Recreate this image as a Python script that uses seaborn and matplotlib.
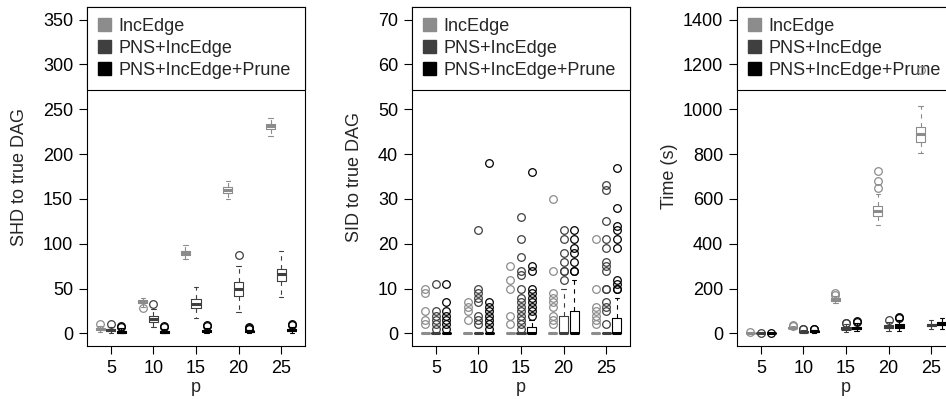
import matplotlib
matplotlib.use("Agg")
import matplotlib.pyplot as plt
import matplotlib.patches as mpatches
import pandas as pd
import seaborn as sns

p_values = [5, 10, 15, 20, 25]
methods = ["IncEdge", "PNS+IncEdge", "PNS+IncEdge+Prune"]
colors = ["#8c8c8c", "#3f3f3f", "#000000"]

# each box: [lower whisker, Q1, median, Q3, upper whisker], one per p
shd_inc = [[2, 4, 5, 6, 8], [30, 34, 35, 37, 40], [83, 87, 90, 92, 99],
           [150, 157, 160, 163, 170], [220, 228, 231, 234, 240]]
shd_inc_out = [[10], [28], [], [], []]
shd_pns = [[1, 3, 4, 5, 7], [7, 13, 16, 20, 27], [17, 28, 33, 38, 52],
           [24, 42, 50, 57, 75], [41, 58, 66, 72, 92]]
shd_pns_out = [[10], [33], [], [87], []]
shd_prune = [[0, 1, 2, 3, 6], [0, 1, 2, 3, 5], [0, 2, 3, 4, 6],
             [1, 2, 3, 3, 4], [1, 3, 4, 5, 7]]
shd_prune_out = [[7, 8], [7, 8], [8, 9], [5, 6, 7], [9, 10]]

sid_inc = [[0, 0, 0, 0, 0], [0, 0, 0, 0, 0], [0, 0, 0, 0, 0],
           [0, 0, 0, 0, 0], [0, 0, 0, 0, 0]]
sid_inc_out = [[2, 3, 5, 9, 10], [3, 5, 6, 7], [2, 4, 10, 12, 15],
               [2, 3, 4, 6, 7, 8, 9, 14, 30], [2, 3, 4, 5, 6, 10, 21]]
sid_pns = [[0, 0, 0, 0, 0], [0, 0, 0, 0, 0], [0, 0, 0, 0, 0],
           [0, 0, 0, 4, 10], [0, 0, 0, 0, 0]]
sid_pns_out = [[1, 2, 3, 4, 5, 11], [2, 3, 4, 7, 8, 9, 10, 23],
               [1, 2, 3, 4, 5, 6, 7, 8, 10, 13, 14, 17, 21, 26],
               [12, 14, 14, 16, 18, 21, 23],
               [2, 5, 6, 7, 10, 10, 14, 15, 16, 19, 21, 25, 32, 33]]
sid_prune = [[0, 0, 0, 0, 0], [0, 0, 0, 0, 0], [0, 0, 0, 1.5, 3],
             [0, 0, 0, 5, 12], [0, 0, 0, 3.5, 8]]
sid_prune_out = [[1, 2, 3, 4, 5, 7, 11], [1, 2, 3, 4, 5, 6, 7, 38],
                 [4, 5, 6, 7, 8, 9, 10, 14, 15, 36],
                 [14, 14, 16, 18, 19, 21, 23],
                 [10, 10, 11, 12, 19, 21, 23, 24, 28, 37]]

time_inc = [[1, 2, 3, 4, 5], [22, 24, 26, 28, 32], [136, 146, 151, 156, 165],
            [483, 522, 546, 570, 620], [805, 855, 888, 920, 1015]]
time_inc_out = [[8], [35, 37], [172, 180], [647, 681, 725], [1175]]
time_pns = [[0, 0.5, 1, 1, 2], [3, 6, 8, 10, 14], [8, 18, 22, 28, 40],
            [10, 24, 30, 36, 50], [18, 32, 38, 44, 62]]
time_pns_out = [[], [18, 20], [45, 48], [58], []]
time_prune = [[0, 0.5, 1, 1, 2], [4, 7, 9, 11, 16], [10, 18, 24, 30, 46],
              [12, 26, 34, 42, 62], [22, 36, 42, 50, 70]]
time_prune_out = [[], [19, 22], [50, 55], [68, 74], []]


def expand(five, outliers):
    # sample that reproduces the five numbers and the outliers
    lo, q1, med, q3, hi = five
    m = 4 * (len(outliers) + 2) + 8
    low = [v for v in outliers if v < q1]
    high = [v for v in outliers if v > q3]
    return low + [lo] + [q1] * m + [med] * m + [q3] * m + [hi] + high


def make_df(stats, outs):
    rows = []
    for method, st, ou in zip(methods, stats, outs):
        for p, five, out in zip(p_values, st, ou):
            for v in expand(five, out):
                rows.append((p, method, v))
    return pd.DataFrame(rows, columns=["p", "method", "value"])


sns.set_style("ticks")
plt.rcParams["font.family"] = ["Liberation Sans", "DejaVu Sans"]
plt.rcParams["axes.linewidth"] = 0.8
fs = 13

fig = plt.figure(figsize=(9.46, 3.99), dpi=100)

panels = [
    (make_df([shd_inc, shd_pns, shd_prune], [shd_inc_out, shd_pns_out, shd_prune_out]),
     "SHD to true DAG", 350, 50, 87, -0.271),
    (make_df([sid_inc, sid_pns, sid_prune], [sid_inc_out, sid_pns_out, sid_prune_out]),
     "SID to true DAG", 70, 10, 412, -0.225),
    (make_df([time_inc, time_pns, time_prune], [time_inc_out, time_pns_out, time_prune_out]),
     "Time (s)", 1400, 200, 737, -0.271),
]

for df, ylab, ymax, ystep, left_px, ylab_x in panels:
    ax = fig.add_axes([left_px / 946, 53 / 399, 218 / 946, 339 / 399])
    sns.boxplot(data=df, x="p", y="value", hue="method", hue_order=methods,
                palette=colors, native_scale=True, fill=False, width=0.75,
                gap=0.15, whis=1.5, linewidth=0.8, fliersize=5.5, legend=False,
                ax=ax,
                medianprops=dict(linewidth=2.2),
                whiskerprops=dict(linestyle=(0, (4, 4))),
                flierprops=dict(marker="o", markeredgewidth=0.9, zorder=6))
    pad = ymax * 0.04
    ax.set_ylim(-pad, ymax + pad)
    ax.set_xlim(2.2, 27.8)
    ax.set_xticks(p_values)
    ax.set_xticklabels([str(p) for p in p_values])
    ax.set_yticks(range(0, ymax + 1, ystep))
    ax.tick_params(length=6, width=0.8, labelsize=fs, pad=4, colors="black")
    for s in ax.spines.values():
        s.set_color("black")
        s.set_linewidth(0.8)
    ax.set_xlabel("p", fontsize=fs)
    ax.set_ylabel(ylab, fontsize=fs)
    ax.yaxis.set_label_coords(ylab_x, 0.5)
    ax.xaxis.set_label_coords(0.5, -0.098)

    handles = [mpatches.Patch(facecolor=c, edgecolor=c) for c in colors]
    leg = ax.legend(handles, methods, loc="upper left", bbox_to_anchor=(0, 1, 1, 0),
                    mode="expand", borderaxespad=0, fancybox=False, framealpha=1,
                    edgecolor="black", fontsize=fs, handlelength=0.72,
                    handleheight=0.72, handletextpad=0.39, labelspacing=0.26,
                    borderpad=0.62)
    leg.get_frame().set_linewidth(0.8)
    leg.set_zorder(5)

fig.savefig("out.png", dpi=100)
